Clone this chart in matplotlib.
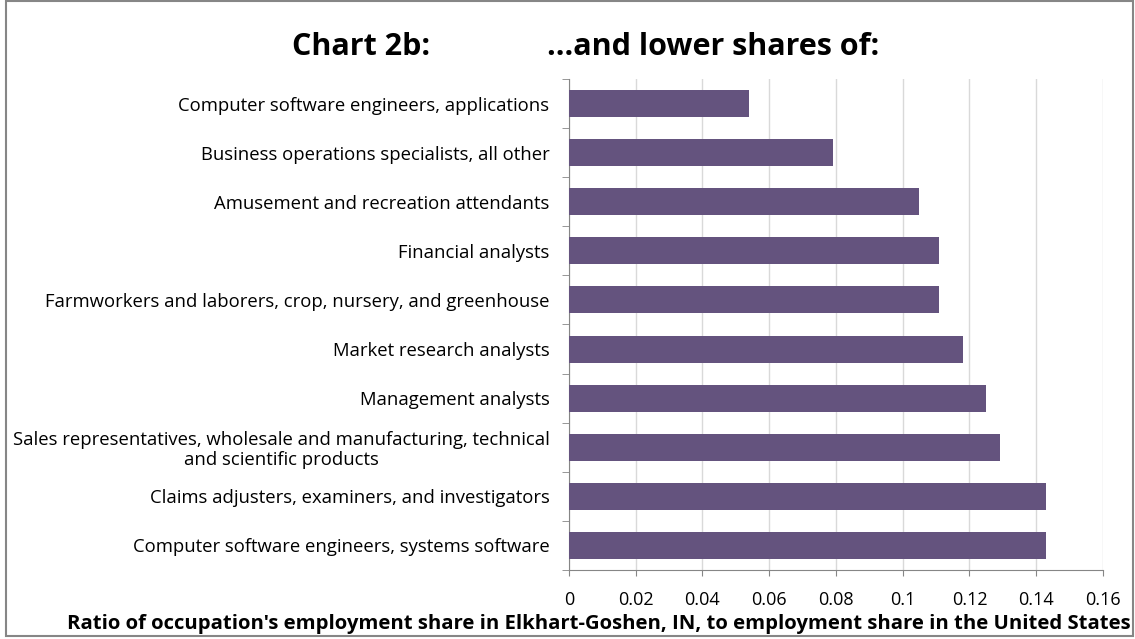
import matplotlib
matplotlib.use("Agg")
import matplotlib.pyplot as plt
from matplotlib.patches import Rectangle

# occupations, listed top to bottom as in the chart
occupations = [
    "Computer software engineers, applications",
    "Business operations specialists, all other",
    "Amusement and recreation attendants",
    "Financial analysts",
    "Farmworkers and laborers, crop, nursery, and greenhouse",
    "Market research analysts",
    "Management analysts",
    "Sales representatives, wholesale and manufacturing, technical\nand scientific products",
    "Claims adjusters, examiners, and investigators",
    "Computer software engineers, systems software",
]
ratios = [0.054, 0.079, 0.105, 0.111, 0.111, 0.118, 0.125, 0.129, 0.143, 0.143]
x_ticks = [0, 0.02, 0.04, 0.06, 0.08, 0.1, 0.12, 0.14, 0.16]
x_tick_labels = ["0", "0.02", "0.04", "0.06", "0.08", "0.1", "0.12", "0.14", "0.16"]

plt.rcParams['font.family'] = ['Open Sans', 'DejaVu Sans']

fig = plt.figure(figsize=(11.35, 6.39), dpi=100)
ax = fig.add_axes([0.5013, 0.108, 0.4705, 0.7684])

pos = list(range(len(occupations)))
ax.barh(pos, ratios, height=0.55, color='#64537E', zorder=3)
ax.set_ylim(len(occupations) - 0.5, -0.5)
ax.set_xlim(0, 0.16)

ax.set_yticks(pos)
ax.set_yticklabels(occupations, fontsize=13.3, multialignment='center', linespacing=1.1)
ax.tick_params(axis='y', length=0, pad=14)
# tick marks between categories
ax.set_yticks([p - 0.5 for p in range(len(occupations) + 1)], minor=True)
ax.tick_params(axis='y', which='minor', length=5, color='#868686', direction='out')

ax.set_xticks(x_ticks)
ax.set_xticklabels(x_tick_labels, fontsize=13)
ax.tick_params(axis='x', length=4, color='#868686', direction='out', pad=11)

ax.grid(axis='x', color='#d9d9d9', linewidth=1, zorder=0)
for side in ['top', 'right']:
    ax.spines[side].set_visible(False)
for side in ['left', 'bottom']:
    ax.spines[side].set_color('#868686')

fig.text(0.528, 0.024, "Ratio of occupation's employment share in Elkhart-Goshen, IN, to employment share in the United States",
         ha='center', va='center', fontsize=14.6, fontweight='bold')
fig.text(0.2573, 0.914, "Chart 2b:", ha='left', va='baseline', fontsize=22, fontweight='bold')
fig.text(0.4819, 0.914, "...and lower shares of:", ha='left', va='baseline', fontsize=22, fontweight='bold')

# outer chart frame
fig.patches.append(Rectangle((0.005, 0.004), 0.993, 0.994, transform=fig.transFigure,
                             fill=False, edgecolor='#868686', linewidth=1.5))

fig.savefig('out.png', dpi=100)
